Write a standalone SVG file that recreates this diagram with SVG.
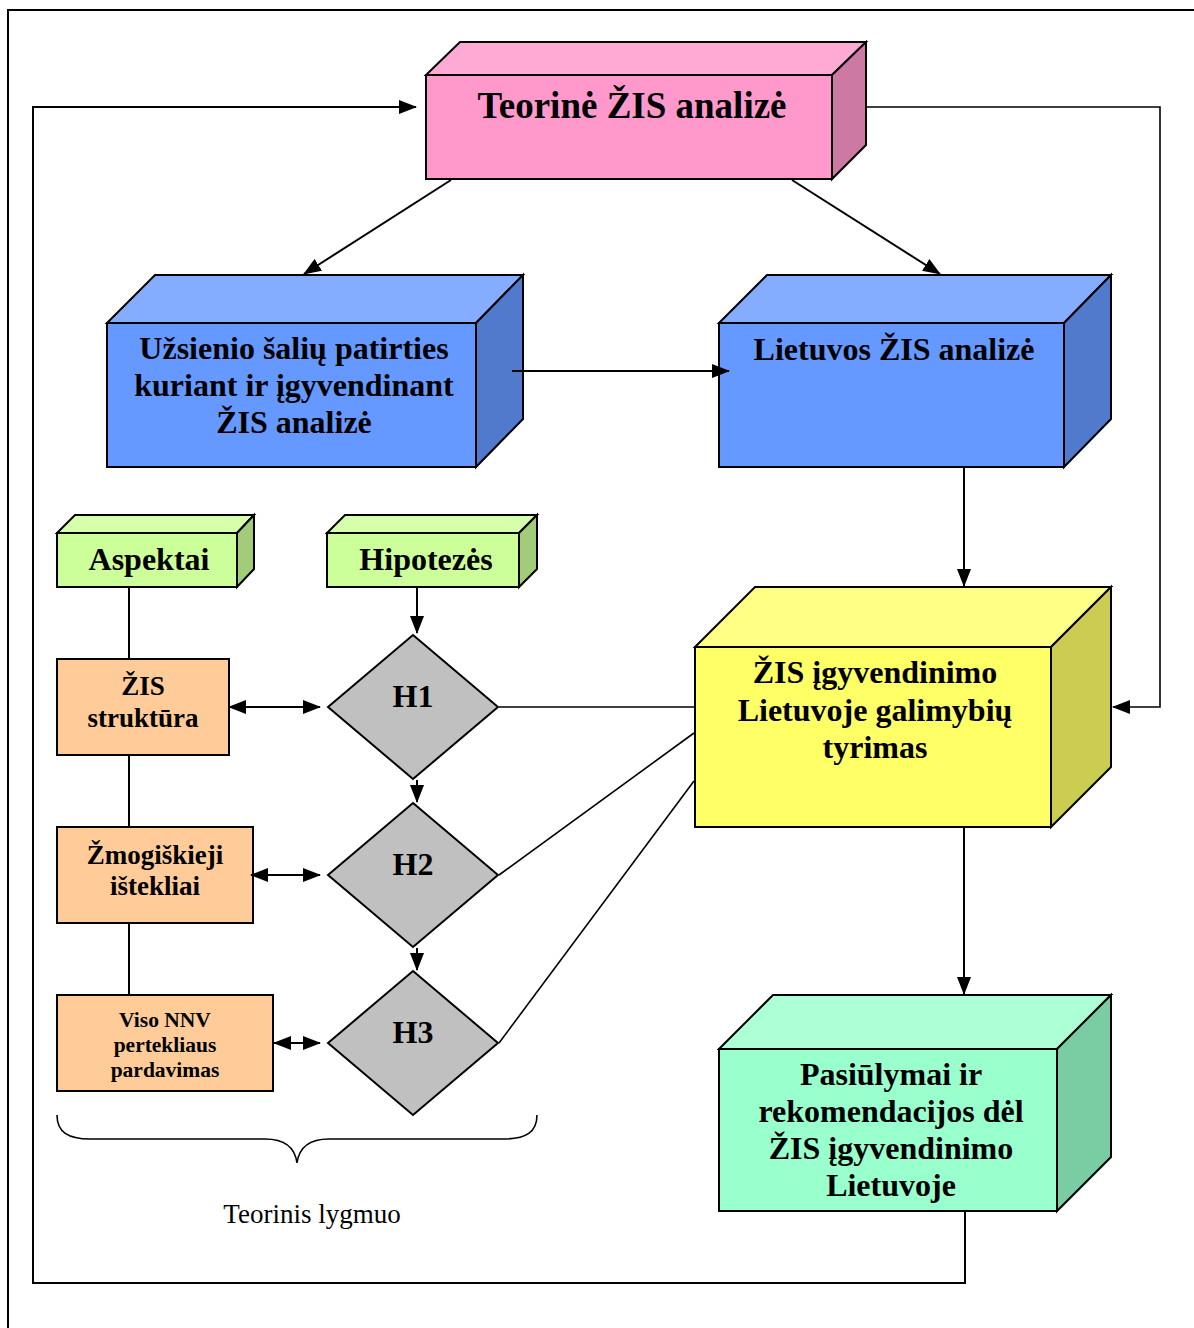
<svg xmlns="http://www.w3.org/2000/svg" width="1194" height="1328" viewBox="0 0 1194 1328">
  <style>
    .face { stroke: #000; stroke-width: 2; stroke-linejoin: miter; }
    .t { font-family: "Liberation Serif", "Times New Roman", serif; font-weight: bold; fill: #000; text-anchor: middle; }
    .plain { font-family: "Liberation Serif", "Times New Roman", serif; fill: #000; text-anchor: middle; }
    .ln { fill: none; stroke: #000; stroke-width: 2; }
    .thin { fill: none; stroke: #000; stroke-width: 1.6; }
  </style>
  <defs>
    <marker id="ah" markerUnits="userSpaceOnUse" markerWidth="18" markerHeight="14" viewBox="0 0 18 14" refX="17" refY="7" orient="auto">
      <path d="M0,0 L18,7 L0,14 Z" fill="#000"/>
    </marker>
    <marker id="ahs" markerUnits="userSpaceOnUse" markerWidth="18" markerHeight="14" viewBox="0 0 18 14" refX="1" refY="7" orient="auto">
      <path d="M18,0 L0,7 L18,14 Z" fill="#000"/>
    </marker>
  </defs>

  <rect width="1194" height="1328" fill="#fff"/>
  <!-- page frame -->
  <path d="M8,1328 V10 H1194" fill="none" stroke="#000" stroke-width="2"/>

  <!-- Teorinė ŽIS analizė -->
  <g id="teorine">
    <polygon class="face" points="426,75 460,42 866,42 832,75" fill="#FFAAD4"/>
    <polygon class="face" points="832,75 866,42 866,145 832,179" fill="#CC7AA3"/>
    <rect class="face" x="426" y="75" width="406" height="104" fill="#FF99CC"/>
    <text class="t" x="632" y="118" font-size="37">Teorinė ŽIS analizė</text>
  </g>

  <!-- Užsienio šalių patirties -->
  <g id="uzsienio">
    <polygon class="face" points="107,323 155,275 523,275 476,323" fill="#85ADFF"/>
    <polygon class="face" points="476,323 523,275 523,419 476,467" fill="#527ACC"/>
    <rect class="face" x="107" y="323" width="369" height="144" fill="#6699FF"/>
    <text class="t" font-size="32"><tspan x="294" y="359">Užsienio šalių patirties</tspan><tspan x="294" y="396">kuriant ir įgyvendinant</tspan><tspan x="294" y="433">ŽIS analizė</tspan></text>
  </g>

  <!-- Lietuvos ŽIS analizė -->
  <g id="lietuvos">
    <polygon class="face" points="719,323 767,275 1111,275 1064,323" fill="#85ADFF"/>
    <polygon class="face" points="1064,323 1111,275 1111,419 1064,467" fill="#527ACC"/>
    <rect class="face" x="719" y="323" width="345" height="144" fill="#6699FF"/>
    <text class="t" x="894" y="360" font-size="32">Lietuvos ŽIS analizė</text>
  </g>

  <!-- ŽIS įgyvendinimo tyrimas -->
  <g id="tyrimas">
    <polygon class="face" points="695,647 755,587 1111,587 1051,647" fill="#FFFF85"/>
    <polygon class="face" points="1051,647 1111,587 1111,767 1051,827" fill="#CCCC52"/>
    <rect class="face" x="695" y="647" width="356" height="180" fill="#FFFF66"/>
    <text class="t" font-size="32"><tspan x="875" y="683">ŽIS įgyvendinimo</tspan><tspan x="875" y="721">Lietuvoje galimybių</tspan><tspan x="875" y="758">tyrimas</tspan></text>
  </g>

  <!-- Pasiūlymai ir rekomendacijos -->
  <g id="pasiulymai">
    <polygon class="face" points="719,1049 773,995 1111,995 1057,1049" fill="#ADFFD6"/>
    <polygon class="face" points="1057,1049 1111,995 1111,1157 1057,1211" fill="#7ACCA3"/>
    <rect class="face" x="719" y="1049" width="338" height="162" fill="#99FFCC"/>
    <text class="t" font-size="32"><tspan x="891" y="1085">Pasiūlymai ir</tspan><tspan x="891" y="1122">rekomendacijos dėl</tspan><tspan x="891" y="1159">ŽIS įgyvendinimo</tspan><tspan x="891" y="1196">Lietuvoje</tspan></text>
  </g>

  <!-- Aspektai -->
  <g id="aspektai">
    <polygon class="face" points="57,533 75,515 254,515 237,533" fill="#D6FFAD"/>
    <polygon class="face" points="237,533 254,515 254,569 237,587" fill="#A3CC7A"/>
    <rect class="face" x="57" y="533" width="180" height="54" fill="#CCFF99"/>
    <text class="t" x="149" y="570" font-size="32">Aspektai</text>
  </g>

  <!-- Hipotezės -->
  <g id="hipotezes">
    <polygon class="face" points="327,533 345,515 537,515 519,533" fill="#D6FFAD"/>
    <polygon class="face" points="519,533 537,515 537,569 519,587" fill="#A3CC7A"/>
    <rect class="face" x="327" y="533" width="192" height="54" fill="#CCFF99"/>
    <text class="t" x="426" y="570" font-size="32">Hipotezės</text>
  </g>

  <!-- aspects -->
  <g id="zis-struktura">
    <rect class="face" x="57" y="659" width="172" height="96" fill="#FFCC99"/>
    <text class="t" font-size="27"><tspan x="143" y="695">ŽIS</tspan><tspan x="143" y="727">struktūra</tspan></text>
  </g>
  <g id="zmogiskieji">
    <rect class="face" x="57" y="827" width="196" height="96" fill="#FFCC99"/>
    <text class="t" font-size="27"><tspan x="155" y="864">Žmogiškieji</tspan><tspan x="155" y="895">ištekliai</tspan></text>
  </g>
  <g id="viso-nnv">
    <rect class="face" x="57" y="995" width="216" height="96" fill="#FFCC99"/>
    <text class="t" font-size="21.5"><tspan x="165" y="1027">Viso NNV</tspan><tspan x="165" y="1052">pertekliaus</tspan><tspan x="165" y="1077">pardavimas</tspan></text>
  </g>

  <!-- hypotheses -->
  <g id="h1">
    <polygon class="face" points="413,635 498,707 413,779 328,707" fill="#C0C0C0"/>
    <text class="t" x="413" y="707" font-size="32">H1</text>
  </g>
  <g id="h2">
    <polygon class="face" points="413,803 498,875 413,947 328,875" fill="#C0C0C0"/>
    <text class="t" x="413" y="875" font-size="32">H2</text>
  </g>
  <g id="h3">
    <polygon class="face" points="413,971 498,1043 413,1115 328,1043" fill="#C0C0C0"/>
    <text class="t" x="413" y="1043" font-size="32">H3</text>
  </g>

  <!-- brace and caption -->
  <g id="teorinis-lygmuo">
    <path d="M57,1115 C57,1132 68,1139 90,1139 H265 C285,1139 295,1148 297,1163 C299,1148 309,1139 329,1139 H504 C526,1139 537,1132 537,1115" fill="none" stroke="#000" stroke-width="1.6"/>
    <text class="plain" x="312" y="1223" font-size="27">Teorinis lygmuo</text>
  </g>

  <!-- connectors -->
  <g id="connectors">
    <path class="ln" d="M965,1212 V1283 H33 V107 H416" marker-end="url(#ah)"/>
    <path class="thin" d="M867,107 H1160 V707 H1113" marker-end="url(#ah)"/>
    <line class="ln" x1="451" y1="180" x2="304" y2="274" marker-end="url(#ah)"/>
    <line class="ln" x1="792" y1="180" x2="940" y2="274" marker-end="url(#ah)"/>
    <line class="ln" x1="512" y1="371" x2="729" y2="371" marker-end="url(#ah)"/>
    <line class="ln" x1="964" y1="468" x2="964" y2="586" marker-end="url(#ah)"/>
    <line class="ln" x1="964" y1="828" x2="964" y2="994" marker-end="url(#ah)"/>
    <line class="ln" x1="417" y1="588" x2="417" y2="633" marker-end="url(#ah)"/>
    <line class="ln" x1="417" y1="780" x2="417" y2="802" marker-end="url(#ah)"/>
    <line class="ln" x1="417" y1="948" x2="417" y2="970" marker-end="url(#ah)"/>
    <path class="ln" d="M129,588 V658 M129,756 V826 M129,924 V994"/>
    <line class="ln" x1="229" y1="707" x2="320" y2="707" marker-start="url(#ahs)" marker-end="url(#ah)"/>
    <line class="ln" x1="251" y1="875" x2="320" y2="875" marker-start="url(#ahs)" marker-end="url(#ah)"/>
    <line class="ln" x1="274" y1="1043" x2="320" y2="1043" marker-start="url(#ahs)" marker-end="url(#ah)"/>
    <path class="thin" d="M499,707 H694"/>
    <path class="thin" d="M499,875 L694,733"/>
    <path class="thin" d="M499,1043 L694,781"/>
  </g>
</svg>
